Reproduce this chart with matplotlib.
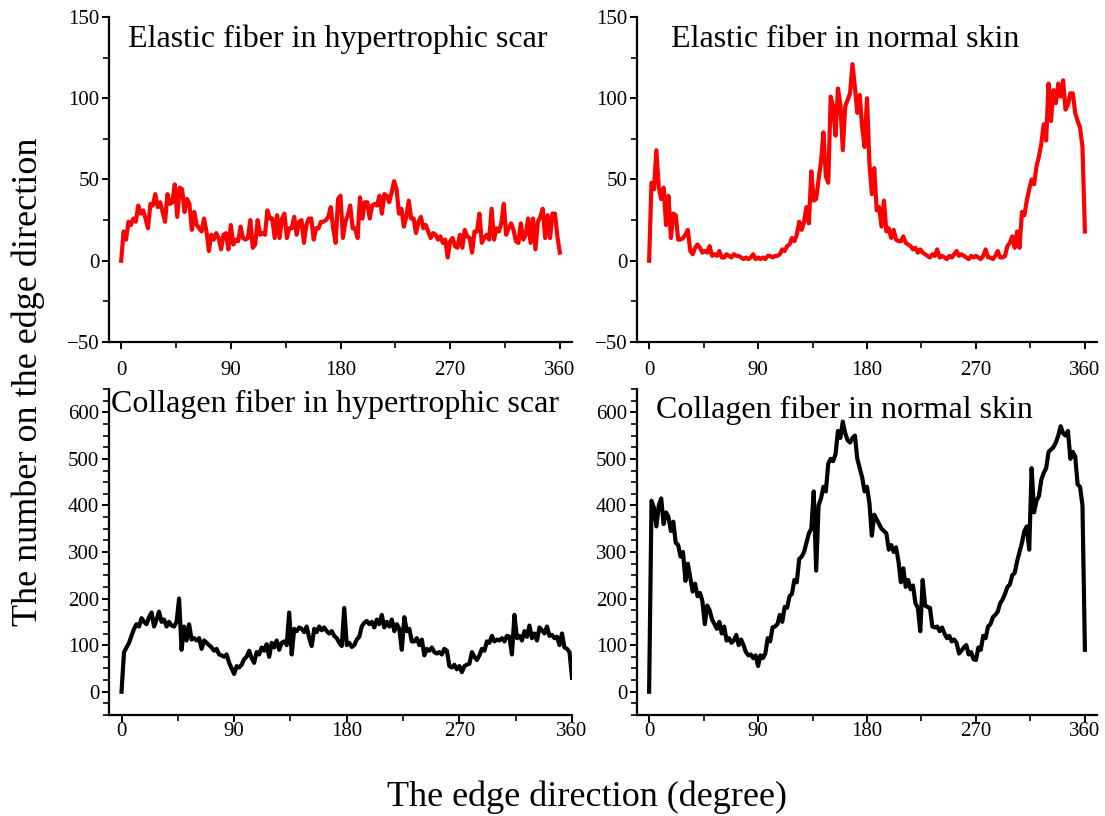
import matplotlib
matplotlib.use('Agg')
import matplotlib.pyplot as plt
from matplotlib.ticker import MultipleLocator

plt.rcParams['font.family'] = ['Liberation Serif', 'DejaVu Serif']

# ---------------- data (edge direction in degrees, step 2) ----------------
degrees = list(range(0, 361, 2))

elastic_scar = [
    0, 18, 13, 24, 22, 26, 24, 34, 29, 31, 26, 20, 35, 34, 41, 33, 36, 30, 24, 41,
    35, 36, 47, 27, 45, 44, 30, 38, 35, 19, 30, 22, 20, 18, 26, 18, 6, 16, 13, 17,
    14, 7, 16, 17, 7, 22, 10, 13, 12, 21, 14, 13, 14, 25, 8, 10, 25, 16, 17, 16,
    31, 26, 26, 14, 28, 14, 26, 29, 14, 20, 20, 27, 16, 24, 25, 11, 22, 26, 26, 13,
    20, 20, 24, 24, 25, 27, 33, 20, 11, 38, 40, 14, 24, 28, 34, 20, 20, 14, 39, 26,
    36, 36, 26, 34, 35, 34, 40, 29, 41, 40, 36, 42, 49, 44, 29, 32, 21, 27, 37, 26,
    26, 17, 24, 27, 20, 22, 18, 14, 17, 16, 13, 15, 11, 13, 2, 12, 14, 9, 8, 16,
    8, 19, 15, 14, 5, 18, 18, 29, 11, 14, 16, 13, 32, 13, 20, 18, 23, 35, 16, 20,
    23, 19, 12, 11, 23, 13, 16, 26, 11, 26, 7, 24, 27, 32, 14, 28, 14, 29, 29, 15,
    5]

elastic_normal = [
    0, 48, 44, 68, 45, 38, 45, 22, 40, 14, 29, 28, 13, 13, 14, 16, 19, 6, 4, 8,
    10, 8, 5, 6, 5, 9, 3, 4, 3, 6, 2, 2, 4, 3, 2, 4, 3, 3, 2, 1,
    2, 1, 2, 4, 1, 2, 1, 2, 1, 3, 3, 2, 3, 3, 4, 7, 6, 9, 10, 14,
    12, 16, 24, 19, 24, 33, 23, 55, 37, 38, 50, 61, 79, 52, 48, 101, 95, 77, 106, 96,
    68, 95, 99, 103, 121, 107, 91, 102, 82, 70, 100, 60, 41, 57, 31, 33, 21, 37, 18, 20,
    14, 19, 13, 12, 12, 15, 11, 10, 9, 7, 8, 5, 7, 5, 4, 3, 2, 4, 3, 7,
    2, 3, 2, 1, 3, 2, 4, 6, 3, 4, 3, 2, 1, 3, 2, 3, 2, 1, 3, 7,
    2, 2, 1, 3, 6, 2, 2, 3, 9, 11, 15, 8, 18, 8, 30, 28, 37, 44, 50, 47,
    58, 64, 72, 84, 74, 109, 86, 105, 97, 109, 101, 111, 93, 96, 103, 103, 91, 86, 82, 70,
    18]

collagen_scar = [
    0, 85, 95, 105, 120, 135, 145, 140, 158, 150, 145, 160, 170, 140, 155, 172, 150, 155, 140, 150,
    142, 140, 150, 200, 90, 140, 110, 145, 112, 115, 110, 115, 92, 110, 105, 100, 95, 88, 92, 80,
    78, 75, 80, 62, 50, 38, 55, 52, 58, 70, 75, 88, 72, 62, 85, 80, 95, 88, 102, 75,
    105, 95, 110, 90, 105, 108, 100, 170, 80, 135, 130, 138, 135, 128, 140, 115, 98, 135, 128, 140,
    132, 138, 130, 125, 130, 120, 115, 105, 98, 180, 100, 105, 96, 100, 112, 118, 140, 148, 152, 145,
    150, 138, 155, 145, 165, 138, 150, 140, 155, 130, 145, 135, 90, 160, 130, 135, 108, 108, 115, 100,
    112, 78, 92, 88, 95, 85, 82, 85, 80, 92, 88, 55, 52, 58, 48, 55, 42, 55, 58, 60,
    85, 75, 68, 78, 92, 88, 108, 105, 120, 108, 112, 110, 115, 108, 120, 118, 80, 165, 115, 120,
    110, 130, 118, 142, 115, 125, 110, 138, 132, 125, 140, 120, 122, 115, 118, 100, 125, 95, 92, 85,
    30]

collagen_normal = [
    0, 410, 395, 355, 400, 415, 360, 385, 375, 345, 365, 320, 315, 290, 300, 238, 275, 245, 215, 232,
    205, 212, 195, 145, 185, 175, 155, 145, 135, 150, 125, 140, 110, 115, 105, 110, 122, 100, 112, 100,
    85, 78, 80, 72, 78, 55, 78, 72, 82, 115, 108, 138, 140, 145, 165, 150, 182, 180, 205, 210,
    240, 235, 285, 290, 300, 320, 340, 350, 430, 260, 400, 415, 440, 430, 490, 500, 495, 510, 560, 545,
    580, 555, 540, 535, 545, 550, 500, 480, 460, 430, 440, 405, 335, 380, 370, 360, 350, 345, 340, 305,
    315, 300, 310, 280, 235, 265, 225, 240, 220, 228, 190, 180, 130, 240, 185, 182, 180, 140, 138, 140,
    130, 138, 125, 115, 120, 108, 112, 105, 82, 88, 95, 100, 80, 85, 70, 68, 95, 90, 120, 115,
    140, 145, 160, 165, 172, 190, 198, 210, 225, 230, 250, 255, 280, 300, 320, 345, 355, 305, 480, 385,
    410, 420, 455, 470, 480, 515, 520, 525, 535, 550, 570, 555, 550, 560, 500, 515, 505, 445, 440, 400,
    90]

titles = ["Elastic fiber in hypertrophic scar", "Elastic fiber in normal skin",
          "Collagen fiber in hypertrophic scar", "Collagen fiber in normal skin"]
x_ticks = [0, 90, 180, 270, 360]

W, H = 1105, 816
fig = plt.figure(figsize=(W / 100, H / 100), dpi=100)


def make_ax(left, right, top, bottom):
    return fig.add_axes([left / W, (H - bottom) / H, (right - left) / W, (bottom - top) / H])


panels = [
    dict(ax=make_ax(109, 572, 17, 342), y=elastic_scar, color='#ff0000', ylim=(-50, 150),
         ymaj=50, xlim=(-10, 370), title=titles[0], tx=0.041, ty=0.908, xpad=9),
    dict(ax=make_ax(637, 1097, 17, 342), y=elastic_normal, color='#ff0000', ylim=(-50, 150),
         ymaj=50, xlim=(-10, 370), title=titles[1], tx=0.074, ty=0.908, xpad=9),
    dict(ax=make_ax(109, 572, 389, 715), y=collagen_scar, color='black', ylim=(-50, 650),
         ymaj=100, xlim=(-10, 360), title=titles[2], tx=0.004, ty=0.929, xpad=0),
    dict(ax=make_ax(637, 1097, 389, 715), y=collagen_normal, color='black', ylim=(-50, 650),
         ymaj=100, xlim=(-10, 370), title=titles[3], tx=0.042, ty=0.911, xpad=0),
]

for p in panels:
    ax = p['ax']
    ax.plot(degrees, p['y'], color=p['color'], lw=3.0, solid_joinstyle='round')
    ax.set_xlim(*p['xlim'])
    ax.set_ylim(*p['ylim'])
    ax.set_xticks(x_ticks)
    ax.xaxis.set_minor_locator(MultipleLocator(45))
    ax.yaxis.set_major_locator(MultipleLocator(p['ymaj']))
    ax.yaxis.set_minor_locator(MultipleLocator(25))
    for s in ['top', 'right']:
        ax.spines[s].set_visible(False)
    for s in ['left', 'bottom']:
        ax.spines[s].set_linewidth(1.6)
    ax.tick_params(axis='both', which='major', direction='out', length=5, width=1.4,
                   labelsize=15, colors='black')
    ax.tick_params(axis='both', which='minor', direction='out', length=4, width=1.2)
    ax.tick_params(axis='y', which='major', pad=2)
    ax.tick_params(axis='x', which='major', pad=p['xpad'])
    ax.text(p['tx'], p['ty'], p['title'], transform=ax.transAxes, ha='left',
            va='baseline', fontsize=23)

fig.text(28 / W, (H - 382) / H, 'The number on the edge direction', rotation=90,
         ha='center', va='center', fontsize=26)
fig.text(587 / W, (H - 797) / H, 'The edge direction (degree)', ha='center',
         va='center', fontsize=26)

fig.savefig('out.png', dpi=100)
